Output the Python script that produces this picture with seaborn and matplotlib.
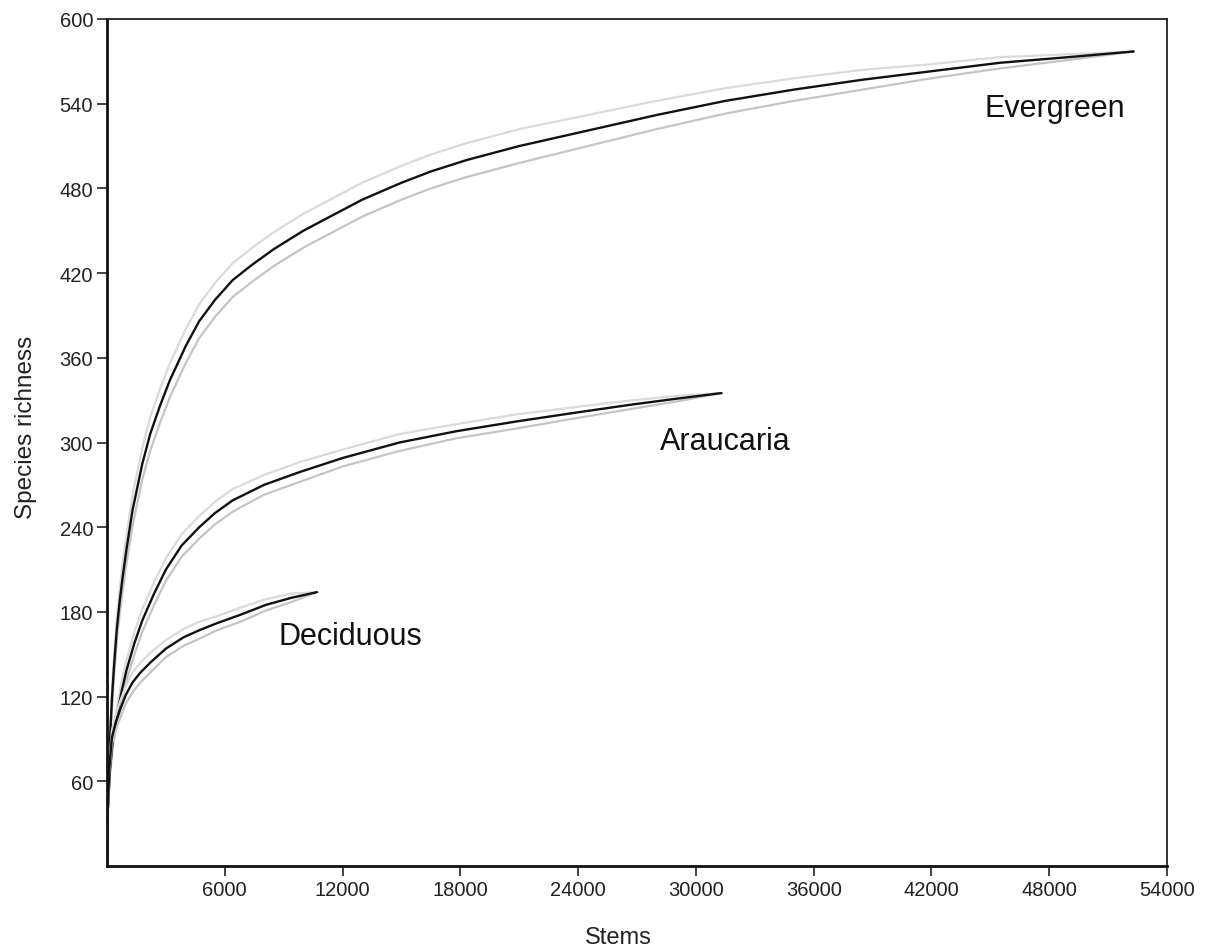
import matplotlib
matplotlib.use("Agg")
import matplotlib.pyplot as plt
import seaborn as sns
import pandas as pd

# Rarefaction curves: number of stems sampled vs. species richness,
# with lower/upper confidence limits for each forest type.
ever_x = [0, 40, 100, 170, 250, 350, 500, 650, 800, 1000,
          1300, 1800, 2200, 2700, 3200, 4000, 4700, 5500, 6400, 7400,
          8500, 10000, 11500, 13000, 15000, 16500, 18300, 21000, 24500, 28000,
          31500, 35000, 38500, 42000, 45500, 49000, 52300]
ever_y = [0, 40, 70, 95, 118, 140, 168, 188, 205, 225,
          252, 285, 306, 326, 344, 368, 386, 401, 415, 426,
          437, 450, 461, 472, 484, 492, 500, 510, 521, 532,
          542, 550, 557, 563, 569, 573, 577]
ever_lo = [0, 38, 66, 90, 112, 133, 160, 179, 195, 215,
           241, 274, 294, 314, 332, 356, 374, 389, 403, 414,
           425, 438, 449, 460, 472, 480, 488, 498, 510, 522,
           533, 542, 550, 558, 565, 571, 577]
ever_hi = [0, 42, 74, 100, 124, 147, 176, 197, 215, 235,
           263, 296, 318, 338, 356, 380, 398, 413, 427, 438,
           449, 462, 473, 484, 496, 504, 512, 522, 532, 542,
           551, 558, 564, 568, 573, 575, 577]

arau_x = [0, 40, 150, 300, 500, 750, 1000, 1400, 1800, 2400,
          3000, 3800, 4700, 5500, 6400, 8000, 9800, 12000, 14900, 17800,
          20900, 23800, 26800, 29000, 31300]
arau_y = [0, 40, 68, 90, 106, 124, 139, 158, 174, 193,
          210, 227, 240, 250, 259, 270, 279, 289, 300, 308,
          315, 321, 327, 331, 335]
arau_lo = [0, 38, 64, 85, 100, 117, 132, 150, 166, 185,
           202, 219, 232, 242, 251, 263, 272, 283, 294, 303,
           310, 317, 324, 329, 335]
arau_hi = [0, 42, 72, 95, 112, 131, 146, 166, 182, 201,
           218, 235, 248, 258, 267, 277, 286, 295, 306, 313,
           320, 325, 330, 333, 335]

deci_x = [0, 40, 120, 250, 450, 650, 950, 1300, 1700, 2200,
          3000, 3900, 4700, 5600, 6800, 8100, 9400, 10700]
deci_y = [0, 40, 70, 91, 102, 110, 121, 130, 137, 144,
          154, 162, 167, 172, 178, 185, 190, 194]
deci_lo = [0, 38, 66, 86, 97, 104, 115, 123, 130, 137,
           148, 156, 161, 167, 173, 181, 187, 194]
deci_hi = [0, 42, 74, 96, 107, 116, 127, 137, 144, 151,
           160, 168, 173, 177, 183, 189, 193, 194]

forest_names = ["Evergreen", "Araucaria", "Deciduous"]
label_pos = [(48300, 537), (31500, 301), (12400, 163)]

x_ticks = [6000, 12000, 18000, 24000, 30000, 36000, 42000, 48000, 54000]
y_ticks = [60, 120, 180, 240, 300, 360, 420, 480, 540, 600]

sns.set_theme(style="ticks")
plt.rcParams["font.family"] = ["Liberation Sans", "DejaVu Sans"]

fig = plt.figure(figsize=(12.06, 9.53), dpi=100)
ax = fig.add_axes([107 / 1206, 1 - 867 / 953, 1060 / 1206, 847 / 953])

series = [
    (ever_x, ever_y, ever_lo, ever_hi),
    (arau_x, arau_y, arau_lo, arau_hi),
    (deci_x, deci_y, deci_lo, deci_hi),
]

for (xs, ys, lo, hi) in series:
    df = pd.DataFrame({"stems": xs, "rich": ys, "lo": lo, "hi": hi})
    sns.lineplot(data=df, x="stems", y="hi", ax=ax, color="#dadada",
                 linewidth=1.6, estimator=None, sort=True)
    sns.lineplot(data=df, x="stems", y="lo", ax=ax, color="#c4c4c4",
                 linewidth=1.6, estimator=None, sort=True)
    sns.lineplot(data=df, x="stems", y="rich", ax=ax, color="#111111",
                 linewidth=1.7, estimator=None, sort=True)

for name, (lx, ly) in zip(forest_names, label_pos):
    ax.text(lx, ly, name, fontsize=22, ha="center", va="center",
            color="#111111")

ax.set_xlim(0, 54000)
ax.set_ylim(0, 600)
ax.set_xticks(x_ticks)
ax.set_yticks(y_ticks)
ax.set_xticklabels([str(t) for t in x_ticks])
ax.set_yticklabels([str(t) for t in y_ticks])
ax.tick_params(axis="both", direction="out", length=7, width=1.2,
               labelsize=14.5, colors="#222222", pad=3)

for side in ["left", "bottom"]:
    ax.spines[side].set_linewidth(2.0)
    ax.spines[side].set_color("#111111")
for side in ["top", "right"]:
    ax.spines[side].set_visible(True)
    ax.spines[side].set_linewidth(1.3)
    ax.spines[side].set_color("#222222")

ax.set_xlabel("Stems", fontsize=17, color="#222222")
ax.set_ylabel("Species richness", fontsize=17.5, color="#222222")
ax.xaxis.set_label_coords(0.482, -0.071)
ax.yaxis.set_label_coords(-0.066, 0.519)

fig.savefig("out.png", dpi=100, facecolor="white")
